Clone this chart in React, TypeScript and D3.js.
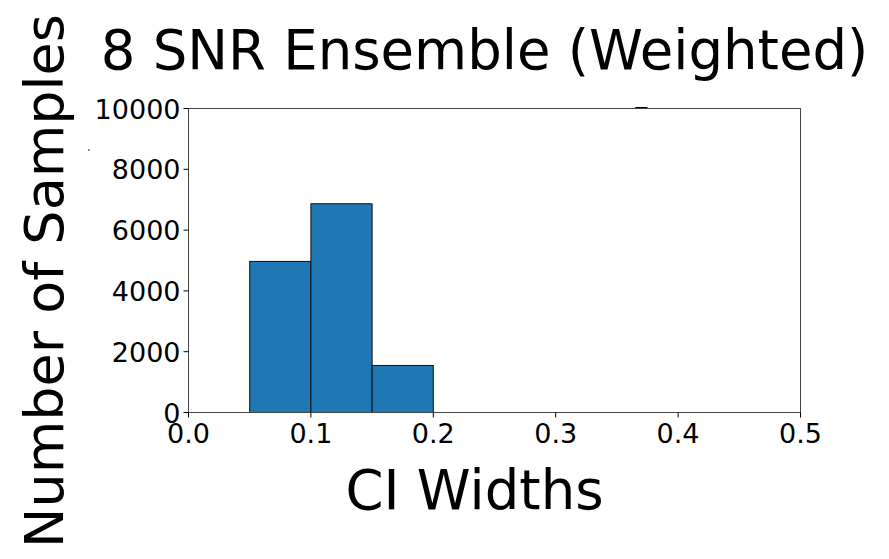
import React from "react";
import * as d3 from "d3";

const binEdges = [0.05, 0.1, 0.15, 0.2];
const counts = [4970, 6866, 1547];
const xTicks = [0.0, 0.1, 0.2, 0.3, 0.4, 0.5];
const yTicks = [0, 2000, 4000, 6000, 8000, 10000];

const W = 889, H = 559;
const m = { left: 188.5, right: 800.5, top: 108.5, bottom: 412.5 };

export default function App() {
  const x = d3.scaleLinear().domain([0, 0.5]).range([m.left, m.right]);
  const y = d3.scaleLinear().domain([0, 10000]).range([m.bottom, m.top]);
  const font = "DejaVu Sans, sans-serif";
  return (
    <svg width={W} height={H} style={{ position: "absolute", left: 0, top: 0 }}>
      <rect width={W} height={H} fill="#fff" />
      {counts.map((c, i) => (
        <rect key={i}
          x={x(binEdges[i])} y={y(c)}
          width={x(binEdges[i + 1]) - x(binEdges[i])}
          height={y(0) - y(c)}
          fill="#1f77b4" stroke="#111" strokeWidth={1} />
      ))}
      <rect x={m.left} y={m.top} width={m.right - m.left} height={m.bottom - m.top}
        fill="none" stroke="#444" strokeWidth={1} />
      <line x1={x(0.365)} x2={x(0.375)} y1={y(10000) - 1} y2={y(10000) - 1} stroke="#000" strokeWidth={1} />
      {xTicks.map(t => (
        <g key={t}>
          <line x1={x(t)} x2={x(t)} y1={m.bottom} y2={m.bottom + 5} stroke="#000" />
          <text x={x(t)} y={m.bottom + 30} textAnchor="middle" fontFamily={font} fontSize={27}>{t.toFixed(1)}</text>
        </g>
      ))}
      {yTicks.map(t => (
        <g key={t}>
          <line x1={m.left - 5} x2={m.left} y1={y(t)} y2={y(t)} stroke="#000" />
          <text x={m.left - 8} y={y(t) + 10} textAnchor="end" fontFamily={font} fontSize={27}>{t}</text>
        </g>
      ))}
      <text x={484.5} y={69} textAnchor="middle" fontFamily={font} fontSize={54.5}>8 SNR Ensemble (Weighted)</text>
      <text x={474.5} y={509} textAnchor="middle" fontFamily={font} fontSize={54.5}>CI Widths</text>
      <text transform="translate(63,281) rotate(-90)" textAnchor="middle" fontFamily={font} fontSize={54}>Number of Samples</text>
      <circle cx={89} cy={150} r={0.8} fill="#000" />
    </svg>
  );
}
